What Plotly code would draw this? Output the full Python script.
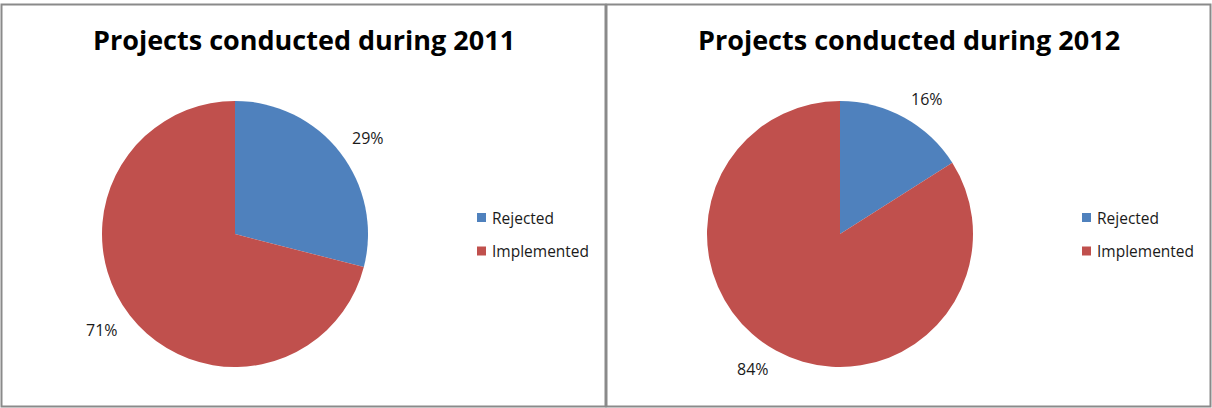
import math
import plotly.graph_objects as go

# ---- data ----
labels = ["Rejected", "Implemented"]
values_2011 = [29, 71]
values_2012 = [16, 84]
titles = ["Projects conducted during 2011", "Projects conducted during 2012"]
colors = ["#4F81BD", "#C0504D"]

W, H = 1212, 408
FONT = "Open Sans"


def px(x):
    return x / W


def py(y):
    return 1 - y / H


# panel geometry (pixels from top-left); second panel is shifted by PANEL_DX
PANEL_DX = 605
PIE_CX, PIE_CY, PIE_R = 235, 234, 133
LABEL_R = 147          # distance of the label's inner corner from the pie centre
LABEL_W, LABEL_H = 33, 12
TITLE_CX, TITLE_CY = 304, 39
LEG_SQ_X, LEG_SQ = 477, 9
LEG_TXT_X = 490
LEG_ROWS_Y = [217.5, 251]

fig = go.Figure()
annotations = []
shapes = []

for i, (vals, title) in enumerate(zip([values_2011, values_2012], titles)):
    dx = i * PANEL_DX
    cx = PIE_CX + dx
    fig.add_trace(go.Pie(
        labels=labels,
        values=vals,
        sort=False,
        direction="clockwise",
        rotation=0,
        textinfo="none",
        marker=dict(colors=colors, line=dict(width=0)),
        domain=dict(x=[px(cx - PIE_R), px(cx + PIE_R)],
                    y=[py(PIE_CY + PIE_R), py(PIE_CY - PIE_R)]),
        showlegend=False,
        name=title[-4:],
        hovertemplate="%{label}: %{percent}<extra></extra>",
    ))

    # percentage labels placed just outside each slice, at its mid-angle
    total = sum(vals)
    start = 0.0
    for v in vals:
        frac = v / total
        mid = (start + frac / 2) * 2 * math.pi
        start += frac
        sx, sy = math.sin(mid), -math.cos(mid)
        corner_x = cx + LABEL_R * sx
        corner_y = PIE_CY + LABEL_R * sy
        lx = corner_x + math.copysign(LABEL_W / 2, sx)
        ly = corner_y + math.copysign(LABEL_H / 2, sy)
        annotations.append(dict(
            x=px(lx), y=py(ly), xref="paper", yref="paper",
            text=f"{round(frac * 100)}%", showarrow=False,
            xanchor="center", yanchor="middle",
            font=dict(family=FONT, size=16, color="#1a1a1a"),
        ))

    # chart title
    annotations.append(dict(
        x=px(TITLE_CX + dx), y=py(TITLE_CY), xref="paper", yref="paper",
        text=f"<b>{title}</b>", showarrow=False,
        xanchor="center", yanchor="middle",
        font=dict(family=FONT, size=27, color="#000000"),
    ))

    # legend: coloured squares with category names
    for lab, col, ry in zip(labels, colors, LEG_ROWS_Y):
        shapes.append(dict(
            type="rect", xref="paper", yref="paper",
            x0=px(LEG_SQ_X + dx), x1=px(LEG_SQ_X + dx + LEG_SQ),
            y0=py(ry - LEG_SQ / 2), y1=py(ry + LEG_SQ / 2),
            fillcolor=col, line=dict(width=0),
        ))
        annotations.append(dict(
            x=px(LEG_TXT_X + dx), y=py(ry), xref="paper", yref="paper",
            text=lab, showarrow=False, xanchor="left", yanchor="middle",
            font=dict(family=FONT, size=15.5, color="#1a1a1a"),
        ))

# panel frames
for x0, x1 in [(1.5, 605.5), (606.5, 1210.5)]:
    shapes.append(dict(
        type="rect", xref="paper", yref="paper",
        x0=px(x0), x1=px(x1), y0=py(406.5), y1=py(4.5),
        line=dict(color="#8a8a8a", width=2), fillcolor="rgba(0,0,0,0)",
    ))

fig.update_layout(
    width=W, height=H,
    margin=dict(l=0, r=0, t=0, b=0),
    paper_bgcolor="white",
    plot_bgcolor="white",
    annotations=annotations,
    shapes=shapes,
)

fig.write_html("out.html", config={"displayModeBar": False})
